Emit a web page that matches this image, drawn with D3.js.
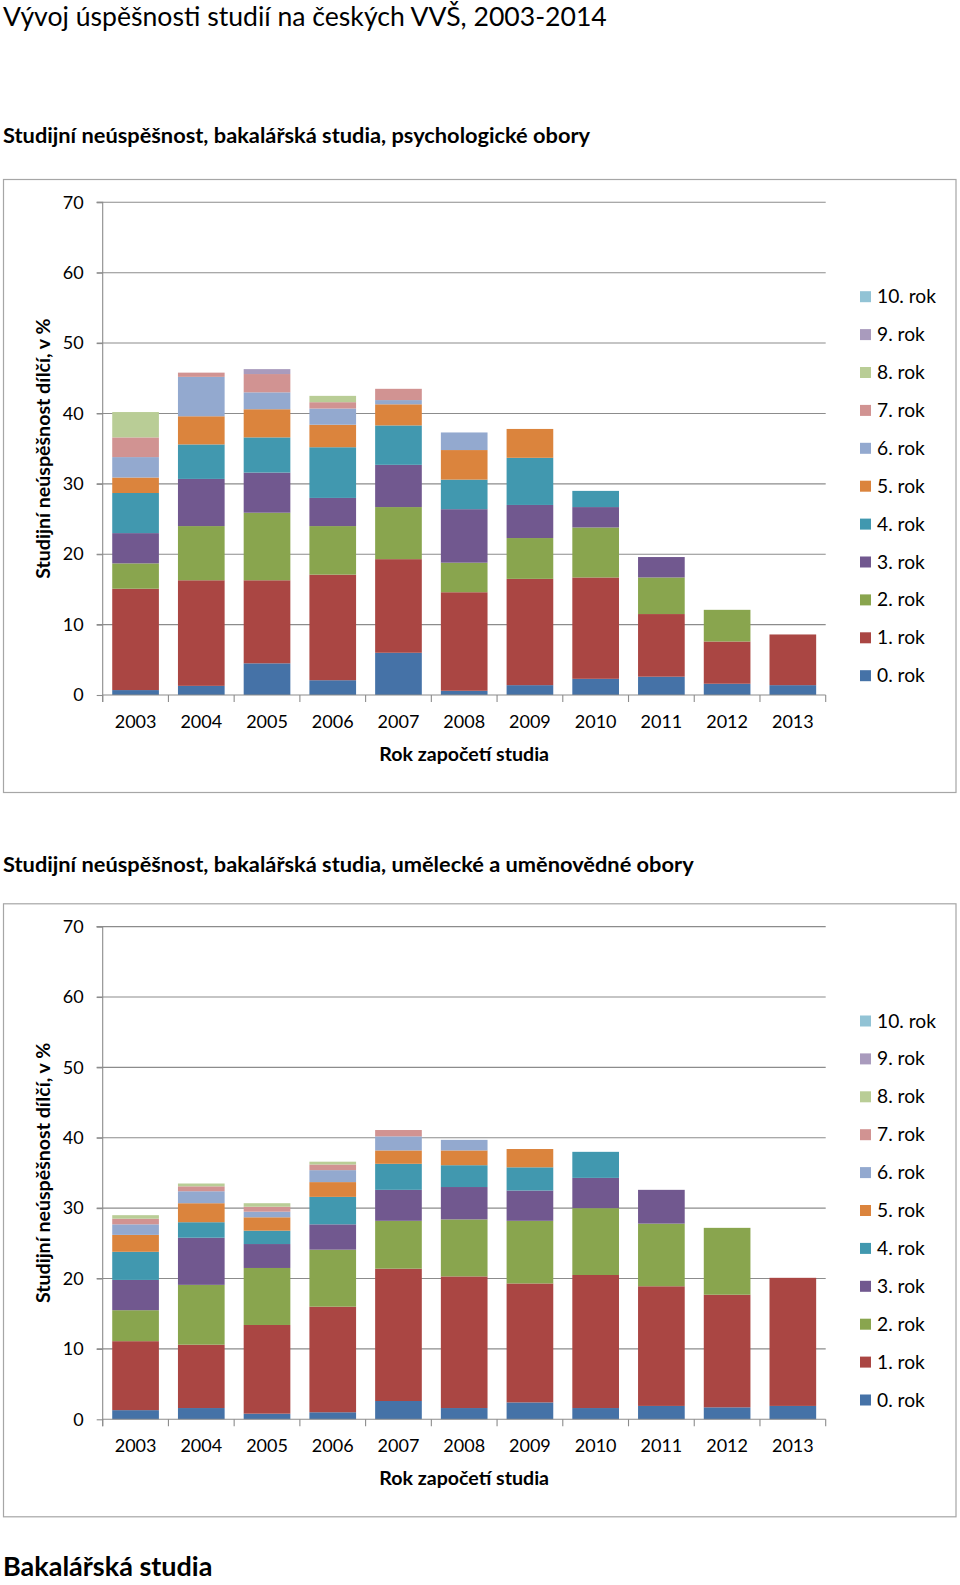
<!DOCTYPE html>
<html>
<head>
<meta charset="utf-8">
<script src="https://cdn.jsdelivr.net/npm/d3@7"></script>
<style>
  html, body { margin: 0; padding: 0; background: #fff; }
  svg { display: block; }
  text { font-family: Lato, "Open Sans", sans-serif; fill: #000; }
</style>
</head>
<body>
<svg id="chart" width="960" height="1585"></svg>
<script>
// ---------- DATA ----------
const years = ["2003","2004","2005","2006","2007","2008","2009","2010","2011","2012","2013"];
const seriesNames = ["0. rok","1. rok","2. rok","3. rok","4. rok","5. rok","6. rok","7. rok","8. rok","9. rok","10. rok"];
const seriesColors = ["#4572A7","#AA4643","#89A54E","#71588F","#4198AF","#DB843D","#93A9CF","#D19392","#B9CD96","#A99BBD","#92C3D5"];
const yTicks = [0, 10, 20, 30, 40, 50, 60, 70];

// Chart 1: psychologické obory (values per year for each "rok")
const psych0  = [0.7, 1.3, 4.5, 2.1, 6.0, 0.6, 1.4, 2.3, 2.6, 1.6, 1.4];
const psych1  = [14.4, 15.0, 11.8, 15.0, 13.3, 14.0, 15.1, 14.4, 8.9, 6.0, 7.2];
const psych2  = [3.6, 7.7, 9.6, 6.9, 7.4, 4.2, 5.8, 7.1, 5.2, 4.5, 0];
const psych3  = [4.3, 6.7, 5.7, 4.0, 6.0, 7.6, 4.7, 2.9, 2.9, 0, 0];
const psych4  = [5.7, 4.9, 5.0, 7.2, 5.6, 4.2, 6.7, 2.3, 0, 0, 0];
const psych5  = [2.2, 4.0, 4.0, 3.2, 3.0, 4.2, 4.1, 0, 0, 0, 0];
const psych6  = [2.9, 5.6, 2.4, 2.3, 0.6, 2.5, 0, 0, 0, 0, 0];
const psych7  = [2.8, 0.6, 2.6, 0.9, 1.6, 0, 0, 0, 0, 0, 0];
const psych8  = [3.6, 0, 0, 0.9, 0, 0, 0, 0, 0, 0, 0];
const psych9  = [0, 0, 0.7, 0, 0, 0, 0, 0, 0, 0, 0];
const psych10 = [0, 0, 0, 0, 0, 0, 0, 0, 0, 0, 0];

// Chart 2: umělecké a uměnovědné obory
const art0  = [1.3, 1.6, 0.8, 1.0, 2.6, 1.6, 2.4, 1.6, 1.9, 1.7, 1.9];
const art1  = [9.8, 9.0, 12.6, 15.0, 18.8, 18.7, 16.9, 18.9, 17.0, 16.0, 18.2];
const art2  = [4.4, 8.5, 8.1, 8.1, 6.8, 8.1, 8.9, 9.5, 8.9, 9.5, 0];
const art3  = [4.3, 6.7, 3.4, 3.6, 4.4, 4.6, 4.3, 4.3, 4.8, 0, 0];
const art4  = [4.0, 2.2, 1.9, 3.9, 3.7, 3.1, 3.3, 3.7, 0, 0, 0];
const art5  = [2.4, 2.7, 1.9, 2.1, 1.9, 2.1, 2.6, 0, 0, 0, 0];
const art6  = [1.5, 1.7, 0.8, 1.7, 2.0, 1.5, 0, 0, 0, 0, 0];
const art7  = [0.8, 0.7, 0.7, 0.8, 0.9, 0, 0, 0, 0, 0, 0];
const art8  = [0.5, 0.4, 0.5, 0.4, 0, 0, 0, 0, 0, 0, 0];
const art9  = [0, 0, 0, 0, 0, 0, 0, 0, 0, 0, 0];
const art10 = [0, 0, 0, 0, 0, 0, 0, 0, 0, 0, 0];

const psychSeries = [psych0, psych1, psych2, psych3, psych4, psych5, psych6, psych7, psych8, psych9, psych10];
const artSeries   = [art0, art1, art2, art3, art4, art5, art6, art7, art8, art9, art10];

const mainTitle = "Vývoj úspěšnosti studií na českých VVŠ, 2003-2014";
const chartTitles = ["Studijní neúspěšnost, bakalářská studia, psychologické obory",
                     "Studijní neúspěšnost, bakalářská studia, umělecké a uměnovědné obory"];
const footerTitle = "Bakalářská studia";
const xTitle = "Rok započetí studia";
const yTitle = "Studijní neúspěšnost dílčí, v %";

// ---------- DRAW ----------
const svg = d3.select("#chart");
svg.append("rect").attr("width", 960).attr("height", 1585).attr("fill", "#fff");

svg.append("text").attr("x", 3).attr("y", 26)
  .attr("font-size", 26.6).text(mainTitle);

svg.append("text").attr("x", 3).attr("y", 1576)
  .attr("font-size", 27).attr("font-weight", "bold").text(footerTitle);

function drawChart(seriesArr, title, offY, titleY) {
  const g = svg.append("g").attr("transform", `translate(0,${offY})`);

  svg.append("text").attr("x", 3).attr("y", titleY)
    .attr("font-size", 21.8).attr("font-weight", "bold").text(title);

  // frame
  g.append("rect").attr("x", 3.5).attr("y", 179.5).attr("width", 952.5).attr("height", 613)
    .attr("fill", "none").attr("stroke", "#a6a6a6").attr("stroke-width", 1.2);

  const x0 = 102.7, x1 = 825.7, yTop = 202.3, yBot = 695;
  const x = d3.scaleBand().domain(years).range([x0, x1]).paddingInner(0.29).paddingOuter(0.145);
  const y = d3.scaleLinear().domain([0, 70]).range([yBot, yTop]);

  // gridlines
  g.append("g").selectAll("line").data(yTicks.filter(t => t > 0)).join("line")
    .attr("x1", x0 - 6).attr("x2", x1)
    .attr("y1", d => y(d)).attr("y2", d => y(d))
    .attr("stroke", "#8c8c8c").attr("stroke-width", 1.1);

  // stacked data
  const rows = years.map((yr, i) => {
    const o = { year: yr };
    seriesNames.forEach((s, k) => o[s] = seriesArr[k][i]);
    return o;
  });
  const stack = d3.stack().keys(seriesNames)(rows);

  g.append("g").selectAll("g").data(stack).join("g")
    .attr("fill", (d, k) => seriesColors[k])
    .selectAll("rect").data(d => d.filter(p => p[1] - p[0] > 0)).join("rect")
    .attr("x", d => x(d.data.year))
    .attr("width", x.bandwidth())
    .attr("y", d => y(d[1]))
    .attr("height", d => y(d[0]) - y(d[1]));

  // y axis
  const yAxis = d3.axisLeft(y).tickValues(yTicks).tickSize(6).tickPadding(13);
  const ya = g.append("g").attr("transform", `translate(${x0},0)`).call(yAxis);
  ya.select(".domain").attr("stroke", "#8c8c8c").attr("stroke-width", 1.1).attr("d", `M-6,${yTop}H0V${yBot + 7}`);
  ya.selectAll(".tick line").attr("stroke", "#8c8c8c").attr("stroke-width", 1.1);
  ya.selectAll(".tick text").attr("font-size", 18).attr("font-family", "Lato").attr("fill", "#000");

  // x axis
  const xAxis = d3.axisBottom(x).tickSize(0).tickPadding(20);
  const xa = g.append("g").attr("transform", `translate(0,${yBot})`).call(xAxis);
  xa.select(".domain").attr("stroke", "#8c8c8c").attr("stroke-width", 1.1).attr("d", `M${x0},0H${x1}`);
  xa.selectAll(".tick text").attr("font-size", 18).attr("font-family", "Lato").attr("fill", "#000");
  // category boundary ticks
  const bounds = years.map(yr => x(yr) - x.step() * 0.145).concat([x1]);
  xa.append("g").selectAll("line").data(bounds).join("line")
    .attr("x1", d => d).attr("x2", d => d).attr("y1", 0).attr("y2", 7)
    .attr("stroke", "#8c8c8c").attr("stroke-width", 1.1);

  // axis titles
  g.append("text").attr("x", (x0 + x1) / 2).attr("y", 761).attr("text-anchor", "middle")
    .attr("font-size", 19.6).attr("font-weight", "bold").text(xTitle);
  g.append("text").attr("transform", `translate(50,${(yTop + yBot) / 2}) rotate(-90)`)
    .attr("text-anchor", "middle").attr("font-size", 19.6).attr("font-weight", "bold").text(yTitle);

  // legend (reverse order)
  const legendOrder = seriesNames.map((s, k) => k).reverse();
  const lg = g.append("g").selectAll("g").data(legendOrder).join("g")
    .attr("transform", (k, i) => `translate(860,${296.7 + i * 37.9})`);
  lg.append("rect").attr("x", 0).attr("y", -5.5).attr("width", 11).attr("height", 11)
    .attr("fill", k => seriesColors[k]);
  lg.append("text").attr("x", 17).attr("y", 6.5).attr("font-size", 19.2).text(k => seriesNames[k]);
}

drawChart(psychSeries, chartTitles[0], 0, 142.7);
drawChart(artSeries, chartTitles[1], 724.3, 871.7);
</script>
</body>
</html>
